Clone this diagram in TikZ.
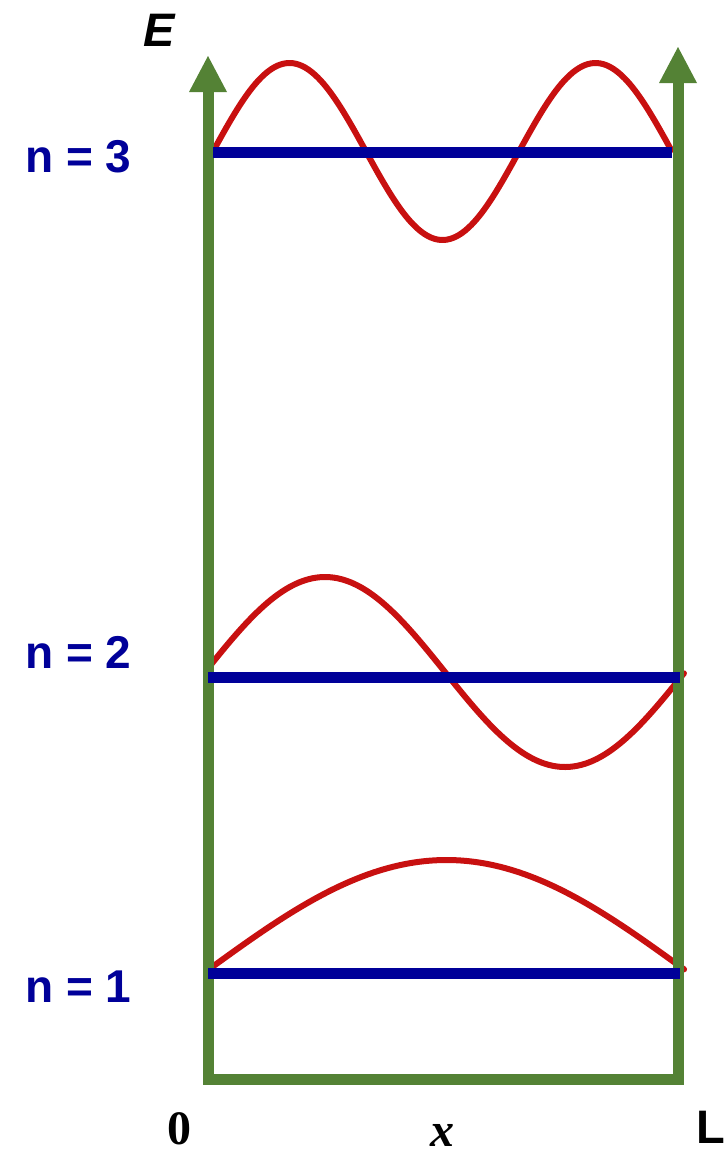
\documentclass[tikz,border=0pt]{standalone}
\usepackage{fontspec}
\setmainfont{Liberation Serif}
\setsansfont{Liberation Sans}
\definecolor{wred}{RGB}{200,16,16}
\definecolor{lblue}{RGB}{0,0,153}
\definecolor{wgreen}{RGB}{84,130,53}
\tikzset{
  wave/.style={wred, line width=6pt, line cap=round},
  level/.style={lblue, line width=11pt},
  wall/.style={wgreen, line width=11pt, line join=miter},
  nlabel/.style={anchor=base west, inner sep=0pt, text=lblue, font=\sffamily\bfseries\fontsize{46}{46}\selectfont},
}
\begin{document}
\begin{tikzpicture}[x=1pt,y=-1pt]
\useasboundingbox (0,0) rectangle (728,1157);
% wavefunctions (parameter t in [0,1])
\draw[wave] plot[domain=0:1, samples=150, smooth, variable=\t] ({213+459*\t}, {151.5-88.5*sin(540*\t)});
\draw[wave] plot[domain=0.002:1, samples=150, smooth, variable=\t] ({205+480*\t}, {672-95*sin(360*\t)});
\draw[wave] plot[domain=0:1, samples=150, smooth, variable=\t] ({208+477*\t}, {970-110*sin(180*\t)});
% walls
\coordinate (lt) at (208,90);
\coordinate (rt) at (678,81);
\coordinate (lb) at (208,1079);
\coordinate (rb) at (678,1079);
\draw[wall] (lt) -- (lb) -- (rb) -- (rt);
\fill[wgreen] (189,92) -- (227,92) -- (208,56) -- cycle;
\fill[wgreen] (659,83) -- (697,83) -- (678,47) -- cycle;
% levels
\draw[level] (213,152) -- (672,152);
\draw[level] (208,677) -- (680,677);
\draw[level] (208,973) -- (680,973);
% labels
\node[nlabel] (n3) at (25,172) {n = 3};
\node[nlabel] (n2) at (25,668) {n = 2};
\node[nlabel] (n1) at (25,1002) {n = 1};
\node[anchor=base west, inner sep=0pt, font=\sffamily\bfseries\itshape\fontsize{47}{47}\selectfont] (E) at (143,46) {E};
\node[anchor=base, inner sep=0pt, font=\bfseries\fontsize{48}{48}\selectfont] (zero) at (179.5,1144) {0};
\node[anchor=base, inner sep=0pt, font=\sffamily\bfseries\fontsize{47}{47}\selectfont] (Lbl) at (711,1143) {L};
\node[anchor=base, inner sep=0pt, font=\bfseries\itshape\fontsize{48}{48}\selectfont] (xl) at (442,1146) {x};
\end{tikzpicture}
\end{document}
